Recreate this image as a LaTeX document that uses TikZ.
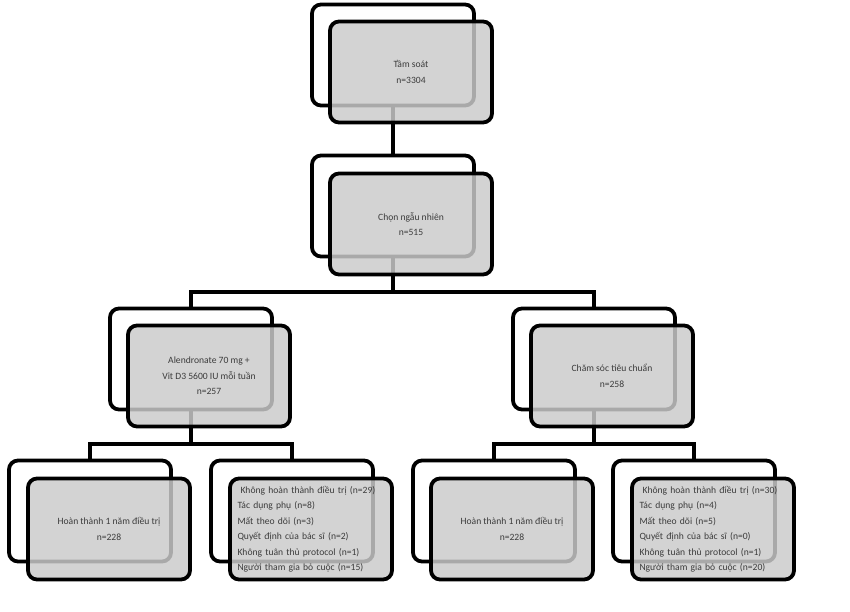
\documentclass[tikz,border=0pt]{standalone}
\usepackage{fontspec}
\setmainfont{Carlito}
\definecolor{boxgray}{RGB}{202,202,202}
\definecolor{txtgray}{RGB}{60,60,60}
\begin{document}
\begin{tikzpicture}[x=1pt,y=-1pt,
  back/.style={draw=black, line width=3.8pt, rounded corners=9pt,
    minimum width=162pt, minimum height=101pt, inner sep=0pt},
  front/.style={back, fill=boxgray, fill opacity=0.84, text opacity=1,
    text=txtgray, font=\fontsize{9.6}{15.5}\selectfont, align=center},
  listbox/.style={front, align=left, text width=147pt},
  link/.style={line width=3.8pt}]
\useasboundingbox (0,0) rectangle (850,612);
% back boxes
\node[back] (b1) at (393,55) {};
\node[back] (b2) at (393,206) {};
\node[back] (b3l) at (191,359) {};
\node[back] (b3r) at (594,359) {};
\node[back] (b4a) at (90,511) {};
\node[back] (b4b) at (292,511) {};
\node[back] (b4c) at (494,511) {};
\node[back] (b4d) at (694,511) {};
% connectors
\coordinate (j2) at (393,292);
\coordinate (j3l) at (191,444);
\coordinate (j3r) at (594,444);
\draw[link] (b1.south) -- (b2.north);
\draw[link] (b2.south) -- (j2);
\draw[link] (b3l.north) |- (j2) -| (b3r.north);
\draw[link] (b3l.south) -- (j3l);
\draw[link] (b4a.north) |- (j3l) -| (b4b.north);
\draw[link] (b3r.south) -- (j3r);
\draw[link] (b4c.north) |- (j3r) -| (b4d.north);
% front boxes
\node[front] (f1) at (411,72) {Tầm soát\\n=3304};
\node[front] (f2) at (411,224) {Chọn ngẫu nhiên\\n=515};
\node[front] (f3l) at (209,376) {Alendronate 70 mg +\\Vit D3 5600 IU mỗi tuần\\n=257};
\node[front] (f3r) at (612,376) {Chăm sóc tiêu chuẩn\\n=258};
\node[front] (f4a) at (109,529) {Hoàn thành 1 năm điều trị\\n=228};
\node[listbox] (f4b) at (311,529) {\hspace*{3pt}Không hoàn thành điều trị (n=29)\\Tác dụng phụ (n=8)\\Mất theo dõi (n=3)\\Quyết định của bác sĩ (n=2)\\Không tuân thủ protocol (n=1)\\Người tham gia bỏ cuộc (n=15)};
\node[front] (f4c) at (512,529) {Hoàn thành 1 năm điều trị\\n=228};
\node[listbox] (f4d) at (713,529) {\hspace*{3pt}Không hoàn thành điều trị (n=30)\\Tác dụng phụ (n=4)\\Mất theo dõi (n=5)\\Quyết định của bác sĩ (n=0)\\Không tuân thủ protocol (n=1)\\Người tham gia bỏ cuộc (n=20)};
\end{tikzpicture}
\end{document}
